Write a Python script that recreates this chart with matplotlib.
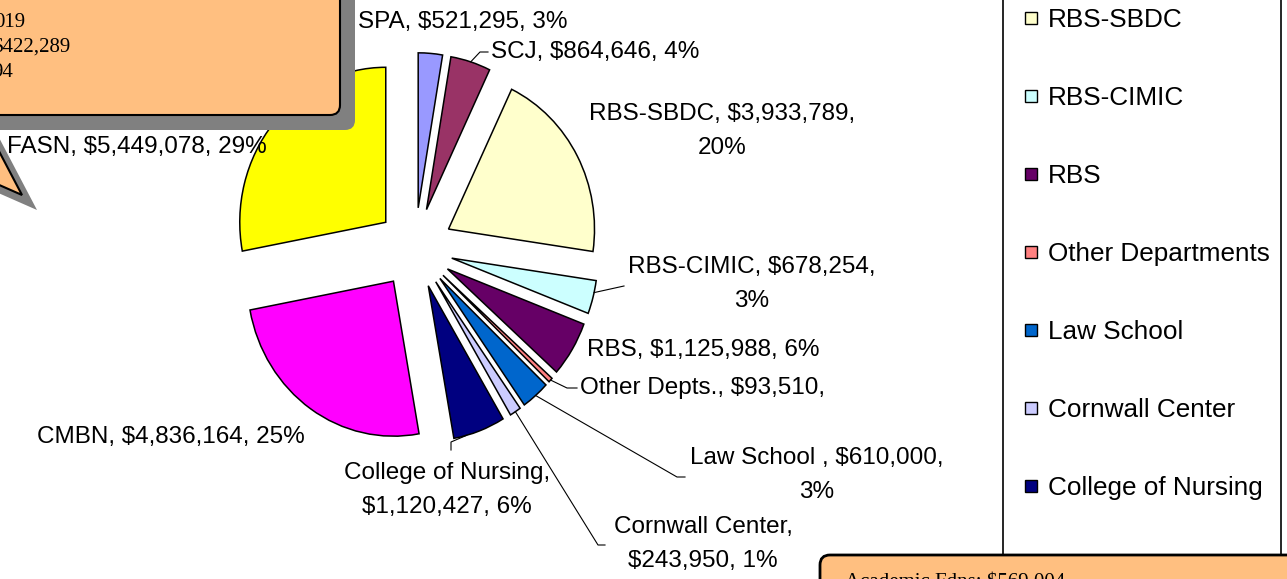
import numpy as np
import matplotlib
matplotlib.use("Agg")
import matplotlib.pyplot as plt
from matplotlib.patches import FancyBboxPatch, Polygon, Rectangle

plt.rcParams['font.family'] = ['Liberation Sans', 'DejaVu Sans']

# data (clockwise from 12 o'clock)
units = ['SPA', 'SCJ', 'RBS-SBDC', 'RBS-CIMIC', 'RBS', 'Other Departments',
         'Law School', 'Cornwall Center', 'College of Nursing', 'CMBN', 'FASN']
amounts = [521295, 864646, 3933789, 678254, 1125988, 93510,
           610000, 243950, 1120427, 4836164, 5449078]
slice_labels = ['SPA, $521,295, 3%',
                'SCJ, $864,646, 4%',
                'RBS-SBDC, $3,933,789,\n20%',
                'RBS-CIMIC, $678,254,\n3%',
                'RBS, $1,125,988, 6%',
                'Other Depts., $93,510,',
                'Law School , $610,000,\n3%',
                'Cornwall Center,\n$243,950, 1%',
                'College of Nursing,\n$1,120,427, 6%',
                'CMBN, $4,836,164, 25%',
                'FASN, $5,449,078, 29%']
colors = ['#9999FF', '#993366', '#FFFFCC', '#CCFFFF', '#660066', '#FF8080',
          '#0066CC', '#CCCCFF', '#000080', '#FF00FF', '#FFFF00']
callout_top = ['019', '$422,289', '94']
callout_bottom = 'Academic Fdns: $569,004'

# layout (pixels, y down)
W, H = 1287, 579
cx, cy, rx, ry = 415, 248, 146, 155
lim = 1.6
label_pos = [(463, 22), (595, 52), (722, 131), (752, 284), (703, 350),
             (702, 388), (817, 475), (703, 544), (447, 490), (171, 437), (137, 147)]
# leader lines: slice index -> (fraction along wedge, bend points)
leaders = {1: (0.5, [(480, 52), (488, 52)]),
           3: (0.36, [(624, 286)]),
           5: (0.5, [(567, 388), (577, 388)]),
           6: (0.5, [(677, 477), (685, 477)]),
           7: (0.5, [(598, 545), (605, 545)]),
           8: (0.75, [(451, 442), (451, 450)])}

fig = plt.figure(figsize=(W / 100, H / 100), dpi=100)

ax = fig.add_axes([(cx - rx * lim) / W, (H - cy - ry * lim) / H,
                   2 * rx * lim / W, 2 * ry * lim / H])
wedges, _ = ax.pie(amounts, colors=colors, startangle=90, counterclock=False,
                   explode=[0.26] * len(amounts),
                   wedgeprops=dict(edgecolor='black', linewidth=1.1))
ax.set_aspect('auto')
ax.set_xlim(-lim, lim)
ax.set_ylim(-lim, lim)
ax.axis('off')

ov = fig.add_axes([0, 0, 1, 1])
ov.set_xlim(0, W)
ov.set_ylim(H, 0)
ov.axis('off')
ov.patch.set_alpha(0)

fs = 17.5
for i, (lab, (x, y)) in enumerate(zip(slice_labels, label_pos)):
    ov.text(x, y, lab, fontsize=fs, ha='center', va='center', linespacing=1.75)

to_ov = ov.transData.inverted()
for i, (f, pts) in leaders.items():
    w = wedges[i]
    ang = np.radians(w.theta2 - f * (w.theta2 - w.theta1))
    px = w.center[0] + w.r * np.cos(ang)
    py = w.center[1] + w.r * np.sin(ang)
    sx, sy = to_ov.transform(ax.transData.transform((px, py)))
    xs = [sx] + [p[0] for p in pts]
    ys = [sy] + [p[1] for p in pts]
    ov.plot(xs, ys, color='black', lw=0.8)

# legend box (cropped at the top, bottom hidden by the callout)
ov.add_patch(Rectangle((1003, -300), 278, 900, facecolor='white',
                       edgecolor='black', lw=1.2, zorder=3))
for i, (u, c) in enumerate(zip(units, colors)):
    y = 18 + 78 * (i - 2)
    if y < 0 or y > 540:
        continue  # entries outside the visible part of the legend
    ov.add_patch(Rectangle((1025, y - 6), 12, 12, facecolor=c,
                           edgecolor='black', lw=1, zorder=4))
    ov.text(1048, y + 2, u, fontsize=18.8, va='center', ha='left', zorder=4)

orange = '#FFBF80'
# top-left callout with shadow
sh = 15
tail = [(-160, 115), (-20, 115), (22, 195)]
ov.add_patch(Polygon([(x + sh, y + sh) for x, y in tail], closed=True,
                     facecolor='#808080', edgecolor='none', zorder=5))
ov.add_patch(FancyBboxPatch((-300 + sh, -100 + sh), 640, 215,
                            boxstyle='round,pad=0,rounding_size=10',
                            facecolor='#808080', edgecolor='none', zorder=5))
ov.add_patch(Polygon(tail, closed=True, facecolor=orange,
                     edgecolor='black', lw=1.5, zorder=6))
ov.add_patch(FancyBboxPatch((-300, -100), 640, 215,
                            boxstyle='round,pad=0,rounding_size=10',
                            facecolor=orange, edgecolor='black', lw=1.5, zorder=7))
for t, (xr, yb) in zip(callout_top, [(25, 27), (70, 52), (13, 77)]):
    ov.text(xr, yb, t, fontsize=15, family='Liberation Serif', ha='right',
            va='baseline', zorder=8)

# bottom-right callout
ov.add_patch(FancyBboxPatch((820, 555), 700, 200,
                            boxstyle='round,pad=0,rounding_size=10',
                            facecolor=orange, edgecolor='black', lw=2, zorder=7))
ov.text(845, 587, callout_bottom, fontsize=15, family='Liberation Serif',
        ha='left', va='baseline', zorder=8)

fig.savefig('out.png', dpi=100)
